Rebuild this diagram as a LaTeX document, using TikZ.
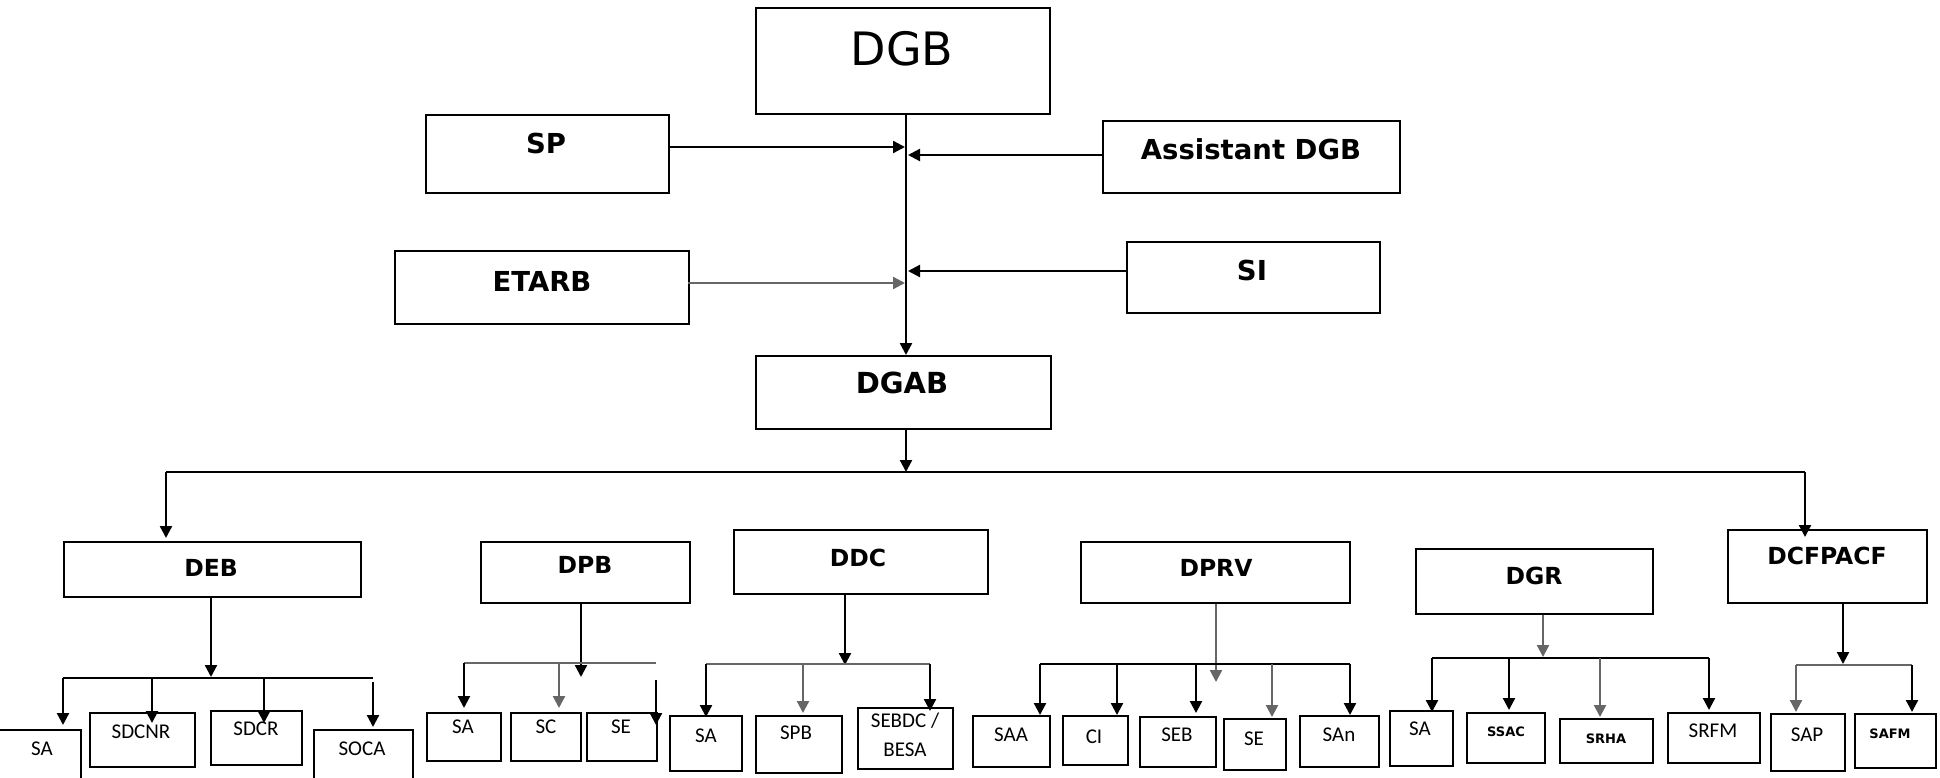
\documentclass[tikz,border=0pt]{standalone}
\usepackage{fontspec}
\usetikzlibrary{arrows.meta}
\newfontfamily\dvs{DejaVu Sans}
\newfontfamily\carl{Carlito}
\tikzset{
  box/.style={draw=black, line width=2pt, inner sep=0pt, anchor=north west},
  ln/.style={line width=2.3pt, draw=black},
  arr/.style={ln, -{Triangle[length=12pt,width=12pt]}},
  gr/.style={draw=black!60},
  big/.style={font=\dvs\fontsize{46}{50}\selectfont},
  toplbl/.style={font=\dvs\bfseries\fontsize{27.5}{30}\selectfont},
  midlbl/.style={font=\dvs\bfseries\fontsize{23.5}{26}\selectfont},
  leaf/.style={font=\carl\fontsize{21}{29}\selectfont, align=center},
  leafb/.style={font=\dvs\bfseries\fontsize{13}{15}\selectfont},
}
\newcommand{\bx}[5]{\node[box, minimum width={#4pt-#2pt}, minimum height={#5pt-#3pt}] (#1) at (#2,#3) {};}
\begin{document}
\begin{tikzpicture}[x=1pt,y=-1pt]
\useasboundingbox (0,0) rectangle (1940,778);
% ---------- top level ----------
\bx{dgb}{755}{7}{1049}{113}
\node[big] (dgbt) at (902,49) {DGB};
\bx{sp}{425}{114}{668}{192}
\node[toplbl] (spt) at (546,143) {SP};
\bx{asst}{1102}{120}{1399}{192}
\node[toplbl] (asstt) at (1251,149) {Assistant DGB};
\bx{etarb}{394}{250}{688}{323}
\node[toplbl] (etarbt) at (542,281) {ETARB};
\bx{si}{1126}{241}{1379}{312}
\node[toplbl] (sit) at (1252,270) {SI};
\bx{dgab}{755}{355}{1050}{428}
\node[toplbl, font=\dvs\bfseries\fontsize{29}{31}\selectfont] (dgabt) at (902,383) {DGAB};
\coordinate (m0) at (906,113);
\draw[arr] (m0) -- (m0 |- dgab.north);
\coordinate (spy) at (668,147);
\draw[arr, shorten >=1pt] (spy) -- (spy -| m0);
\coordinate (asy) at (1102,155);
\draw[arr, shorten >=2pt] (asy) -- (asy -| m0);
\coordinate (ety) at (688,283);
\draw[arr, gr, shorten >=1pt] (ety) -- (ety -| m0);
\coordinate (siy) at (1126,271);
\draw[arr, shorten >=2pt] (siy) -- (siy -| m0);
% ---------- second level ----------
\bx{deb}{63}{541}{360}{596}
\node[midlbl] (debt) at (211,568) {DEB};
\bx{dpb}{480}{541}{689}{602}
\node[midlbl] (dpbt) at (585,565) {DPB};
\bx{ddc}{733}{529}{987}{593}
\node[midlbl] (ddct) at (858,558) {DDC};
\bx{dprv}{1080}{541}{1349}{602}
\node[midlbl] (dprvt) at (1216,568) {DPRV};
\bx{dgr}{1415}{548}{1652}{613}
\node[midlbl] (dgrt) at (1534,576) {DGR};
\bx{dcf}{1727}{529}{1926}{602}
\node[midlbl] (dcft) at (1827,556) {DCFPACF};
\coordinate (b0) at (906,472);
\coordinate (bl) at (166,472);
\coordinate (br) at (1805,472);
\draw[arr] (b0 |- dgab.south) -- (b0);
\draw[ln] (bl) -- (br);
\draw[arr, shorten >=3pt] (bl) -- (bl |- deb.north);
\draw[arr, shorten >=-8pt] (br) -- (br |- dcf.north);
% ---------- DEB ----------
\bx{sa1}{-5}{729}{80}{795}
\node[leaf] (sa1t) at (42,749) {SA};
\bx{sdcnr}{89}{712}{194}{766}
\node[leaf] (sdcnrt) at (141,732) {SDCNR};
\bx{sdcr}{210}{710}{301}{764}
\node[leaf] (sdcrt) at (256,729) {SDCR};
\bx{soca}{313}{729}{412}{795}
\node[leaf] (socat) at (362,749) {SOCA};
\coordinate (d0) at (211,677);
\draw[arr] (d0 |- deb.south) -- (d0);
\coordinate (d1) at (63,678);
\coordinate (d2) at (152,678);
\coordinate (d3) at (264,678);
\coordinate (d4) at (373,678);
\draw[ln] (d1) -- (d4);
\draw[arr, shorten >=4pt] (d1) -- (d1 |- sa1.north);
\draw[arr, shorten >=-11pt] (d2) -- (d2 |- sdcnr.north);
\draw[arr, shorten >=-13pt] (d3) -- (d3 |- sdcr.north);
\draw[arr, shorten <=4pt, shorten >=2pt] (d4) -- (d4 |- soca.north);
% ---------- DPB ----------
\bx{sa2}{426}{712}{500}{760}
\node[leaf] (sa2t) at (463,727) {SA};
\bx{sc}{510}{712}{580}{760}
\node[leaf] (sct) at (546,727) {SC};
\bx{se1}{586}{712}{656}{760}
\node[leaf] (se1t) at (621,727) {SE};
\coordinate (p0) at (581,677);
\draw[arr] (p0 |- dpb.south) -- (p0);
\coordinate (p1) at (464,663);
\coordinate (p2) at (559,663);
\coordinate (p3) at (656,663);
\draw[ln, gr] (p1) -- (p3);
\draw[arr, shorten >=4pt] (p1) -- (p1 |- sa2.north);
\draw[arr, gr, shorten >=4pt] (p2) -- (p2 |- sc.north);
\draw[arr, shorten <=17pt, shorten >=-13pt] (p3) -- (p3 |- se1.north);
% ---------- DDC ----------
\bx{sa3}{669}{715}{741}{770}
\node[leaf] (sa3t) at (706,736) {SA};
\bx{spb}{755}{715}{841}{772}
\node[leaf] (spbt) at (796,733) {SPB};
\bx{sebdc}{857}{707}{952}{768}
\node[leaf] (sebdct) at (905,735) {SEBDC /\\BESA};
\coordinate (c0) at (845,665);
\draw[arr] (c0 |- ddc.south) -- (c0);
\coordinate (c1) at (706,664);
\coordinate (c2) at (803,664);
\coordinate (c3) at (930,664);
\draw[ln, gr] (c1) -- (c3);
\draw[arr, shorten >=-2pt] (c1) -- (c1 |- sa3.north);
\draw[arr, gr, shorten >=2pt] (c2) -- (c2 |- spb.north);
\draw[arr, shorten >=-4pt] (c3) -- (c3 |- sebdc.north);
% ---------- DPRV ----------
\bx{saa}{972}{715}{1049}{766}
\node[leaf] (saat) at (1011,735) {SAA};
\bx{ci}{1062}{715}{1127}{764}
\node[leaf] (cit) at (1094,737) {CI};
\bx{seb}{1139}{716}{1215}{766}
\node[leaf] (sebt) at (1177,735) {SEB};
\bx{se2}{1223}{718}{1285}{769}
\node[leaf] (se2t) at (1254,739) {SE};
\bx{san}{1299}{715}{1378}{766}
\node[leaf] (sant) at (1339,735) {SAn};
\coordinate (v0) at (1216,682);
\draw[arr, gr] (v0 |- dprv.south) -- (v0);
\coordinate (v1) at (1040,664);
\coordinate (v2) at (1117,664);
\coordinate (v3) at (1196,664);
\coordinate (v4) at (1272,664);
\coordinate (v5) at (1350,664);
\draw[ln] (v1) -- (v5);
\draw[arr] (v1) -- (v1 |- saa.north);
\draw[arr] (v2) -- (v2 |- ci.north);
\draw[arr, shorten >=3pt] (v3) -- (v3 |- seb.north);
\draw[arr, gr, shorten >=1pt] (v4) -- (v4 |- se2.north);
\draw[arr] (v5) -- (v5 |- san.north);
% ---------- DGR ----------
\bx{sa4}{1389}{710}{1452}{765}
\node[leaf] (sa4t) at (1420,729) {SA};
\bx{ssac}{1466}{712}{1544}{762}
\node[leafb] (ssact) at (1506,732) {SSAC};
\bx{srha}{1559}{718}{1652}{762}
\node[leafb] (srhat) at (1606,739) {SRHA};
\bx{srfm}{1667}{712}{1759}{762}
\node[leaf] (srfmt) at (1713,731) {SRFM};
\coordinate (g0) at (1543,657);
\draw[arr, gr] (g0 |- dgr.south) -- (g0);
\coordinate (g1) at (1432,658);
\coordinate (g2) at (1509,658);
\coordinate (g3) at (1600,658);
\coordinate (g4) at (1709,658);
\draw[ln] (g1) -- (g4);
\draw[arr, shorten >=-2pt] (g1) -- (g1 |- sa4.north);
\draw[arr, shorten >=2pt] (g2) -- (g2 |- ssac.north);
\draw[arr, gr, shorten >=1pt] (g3) -- (g3 |- srha.north);
\draw[arr, shorten >=2pt] (g4) -- (g4 |- srfm.north);
% ---------- DCFPACF ----------
\bx{sap}{1770}{713}{1844}{770}
\node[leaf] (sapt) at (1807,735) {SAP};
\bx{safm}{1854}{713}{1935}{767}
\node[leafb] (safmt) at (1890,734) {SAFM};
\coordinate (f0) at (1843,664);
\draw[arr] (f0 |- dcf.south) -- (f0);
\coordinate (f1) at (1796,665);
\coordinate (f2) at (1912,665);
\draw[ln, gr] (f1) -- (f2);
\draw[arr, gr, shorten >=1pt] (f1) -- (f1 |- sap.north);
\draw[arr, shorten >=1pt] (f2) -- (f2 |- safm.north);
\end{tikzpicture}
\end{document}
